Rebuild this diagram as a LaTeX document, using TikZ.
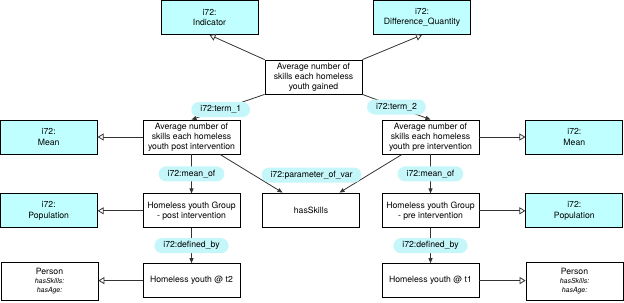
\documentclass[tikz,border=0pt]{standalone}
\usepackage{fontspec}
\setmainfont{TeX Gyre Heros}
\usepackage{xcolor}
\usetikzlibrary{arrows.meta,positioning}

\definecolor{clsfill}{RGB}{192,255,255}
\definecolor{lblfill}{RGB}{196,246,250}

\begin{document}
\begin{tikzpicture}[
  x=1bp, y=-1bp,
  every node/.style={font=\fontsize{8.7}{10.2}\selectfont, align=center},
  cls/.style={draw, line width=0.8bp, fill=clsfill, minimum width=97bp, minimum height=34bp, inner sep=1bp},
  inst/.style={draw, line width=0.8bp, fill=white, minimum width=97bp, minimum height=34bp, inner sep=1bp},
  lbl/.style={fill=lblfill, rounded corners=7.5bp, minimum height=15bp, inner xsep=9bp, inner ysep=1bp},
  isa/.style={-{Triangle[open, length=6bp, width=7bp]}, line width=0.8bp, color=black!80},
  rel/.style={-{Triangle[length=5bp, width=4bp]}, line width=0.8bp, color=black!80}
]
\useasboundingbox (0,0) rectangle (624,302);

\node[cls] (ind) at (209.5,17.5) {i72:\\Indicator};
\node[cls] (diff) at (422,17.5) {i72:\\Difference\_Quantity};
\node[inst] (gained) at (313.5,77) {Average number of\\skills each homeless\\youth gained};

\node[inst] (post) at (191.5,137) {Average number of\\skills each homeless\\youth post intervention};
\node[inst] (pre) at (430.5,137) {Average number of\\skills each homeless\\youth pre intervention};
\node[cls, left=45bp of post] (meanL) {i72:\\Mean};
\node[cls, right=46bp of pre] (meanR) {i72:\\Mean};

\node[inst, below=39bp of post] (grpPost) {Homeless youth Group\\- post intervention};
\node[inst, below=39bp of pre] (grpPre) {Homeless youth Group\\- pre intervention};
\node[inst] (skills) at (311,210) {hasSkills};
\node[cls, left=45bp of grpPost] (popL) {i72:\\Population};
\node[cls, right=46bp of grpPre] (popR) {i72:\\Population};

\node[inst, below=35bp of grpPost] (youthT2) {Homeless youth @ t2};
\node[inst, below=35bp of grpPre] (youthT1) {Homeless youth @ t1};
\node[inst, minimum height=38bp] (personL) at (49.5,281) {Person\\[-1.5bp]{\fontsize{7}{9}\selectfont\itshape hasSkills:}\\[-1.5bp]{\fontsize{7}{9}\selectfont\itshape hasAge:}};
\node[inst, minimum height=38bp] (personR) at (574.5,281) {Person\\[-1.5bp]{\fontsize{7}{9}\selectfont\itshape hasSkills:}\\[-1.5bp]{\fontsize{7}{9}\selectfont\itshape hasAge:}};

\draw[isa] (gained.north west) -- (ind.south);
\draw[isa] (gained.north east) -- (diff.south);
\draw[rel] (gained.south west) -- node[lbl, pos=0.6, text=black] (t1) {i72:term\_1} (post.north);
\draw[rel] (gained.south east) -- node[lbl, pos=0.5, text=black] (t2) {i72:term\_2} (pre.north);

\draw[isa] (post) -- (meanL);
\draw[isa] (pre) -- (meanR);
\draw[rel] (post) -- (skills);
\draw[rel] (pre) -- (skills);
\node[lbl] (param) at (311.5,175) {i72:parameter\_of\_var};

\draw[rel] (post) -- node[lbl, text=black] (mL) {i72:mean\_of} (grpPost);
\draw[rel] (pre) -- node[lbl, text=black] (mR) {i72:mean\_of} (grpPre);
\draw[isa] (grpPost) -- (popL);
\draw[isa] (grpPre) -- (popR);

\draw[rel] (grpPost) -- node[lbl, text=black] (dL) {i72:defined\_by} (youthT2);
\draw[rel] (grpPre) -- node[lbl, text=black] (dR) {i72:defined\_by} (youthT1);
\draw[isa] (youthT2) -- (youthT2 -| personL.east);
\draw[isa] (youthT1) -- (youthT1 -| personR.west);

\end{tikzpicture}
\end{document}
